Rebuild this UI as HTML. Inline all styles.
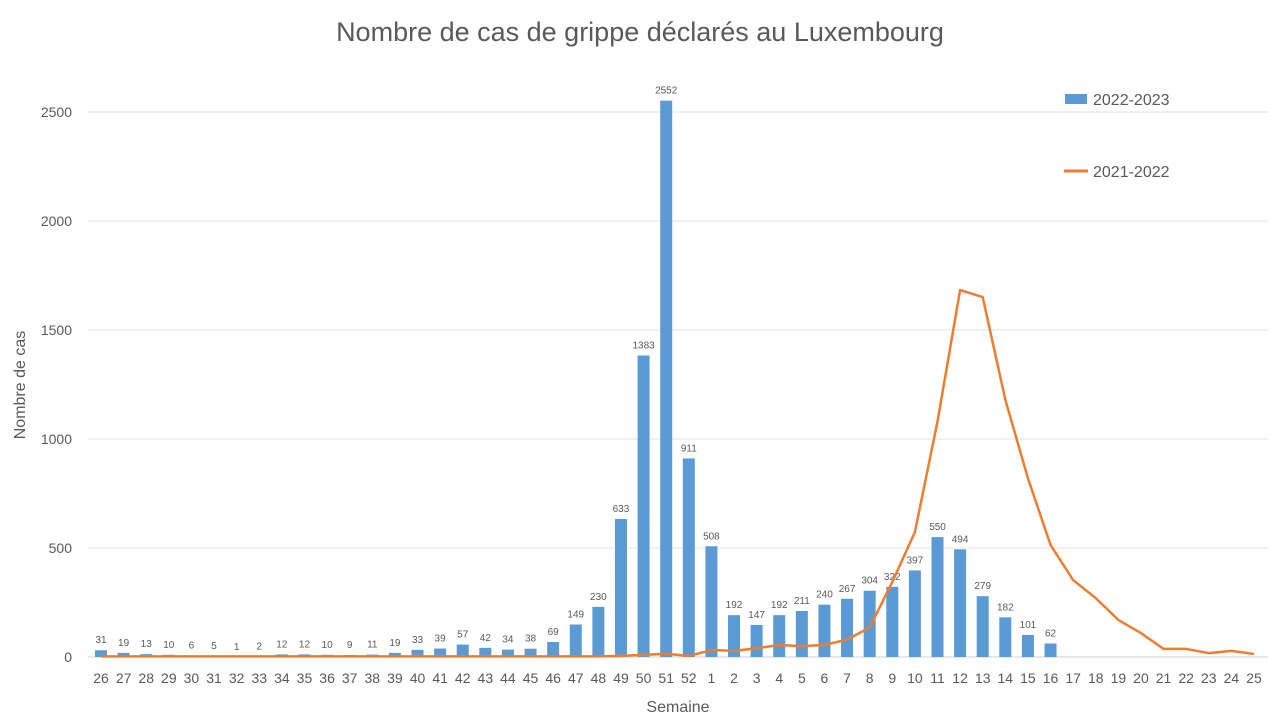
<!DOCTYPE html>
<html><head><meta charset="utf-8"><style>
body{margin:0;background:#fff;font-family:"Liberation Sans",sans-serif}
svg text{font-family:"Liberation Sans",sans-serif}
</style></head><body>
<svg id="chart" width="1280" height="720" xmlns="http://www.w3.org/2000/svg">
<text x="640" y="41" text-anchor="middle" font-size="27" fill="#595959">Nombre de cas de grippe déclarés au Luxembourg</text>
<text transform="translate(25,385) rotate(-90)" text-anchor="middle" font-size="16" fill="#595959">Nombre de cas</text>
<text x="678" y="712" text-anchor="middle" font-size="16" fill="#595959">Semaine</text>
<g id="grid"></g><g id="bars"></g><g id="line"></g><g id="xlabels"></g>
<g>
<rect x="1065" y="94" width="22" height="10" fill="#5b9bd5"/>
<text x="1093" y="105" font-size="16" fill="#595959">2022-2023</text>
<line x1="1064" y1="171" x2="1088" y2="171" stroke="#ed7d31" stroke-width="3"/>
<text x="1093" y="177" font-size="16" fill="#595959">2021-2022</text>
</g>
</svg>
<script>
const weeks=[26,27,28,29,30,31,32,33,34,35,36,37,38,39,40,41,42,43,44,45,46,47,48,49,50,51,52,1,2,3,4,5,6,7,8,9,10,11,12,13,14,15,16,17,18,19,20,21,22,23,24,25];
const cases2223=[31,19,13,10,6,5,1,2,12,12,10,9,11,19,33,39,57,42,34,38,69,149,230,633,1383,2552,911,508,192,147,192,211,240,267,304,322,397,550,494,279,182,101,62];
const cases2122=[3,3,3,3,3,3,3,3,3,3,3,3,3,3,3,3,3,3,3,3,3,3,3,5,10,15,5,32,28,40,55,50,55,80,135,344,573,1080,1683,1651,1180,820,514,353,270,170,110,37,37,18,28,14];
const yTicks=[0,500,1000,1500,2000,2500];
const NS='http://www.w3.org/2000/svg';
const x0=101,dx=(1254-101)/51,yB=657,yS=545/2500;
const X=i=>x0+i*dx, Y=v=>yB-v*yS;
function mk(t,a,p){const e=document.createElementNS(NS,t);for(const k in a)e.setAttribute(k,a[k]);p.appendChild(e);return e;}
const g=document.getElementById('grid');
yTicks.forEach(v=>{
 const l=mk('line',{x1:88,x2:1268,y1:Y(v),y2:Y(v),stroke:v===0?'#d0d0d0':'#e3e3e3','stroke-width':1},g);
 
 
 const t=mk('text',{x:72,y:Y(v)+5,'text-anchor':'end','font-size':14,fill:'#595959'},g);t.textContent=v;
 
 
});
const xl=document.getElementById('xlabels');
weeks.forEach((w,i)=>{
 const t=mk('text',{x:X(i),y:683,'text-anchor':'middle','font-size':14,fill:'#595959'},xl);t.textContent=w;
 
 
});
const b=document.getElementById('bars');
cases2223.forEach((v,i)=>{
 const r=mk('rect',{x:X(i)-6,y:Y(v),width:12,height:v*yS,fill:'#5b9bd5'},b);
 
 
 const t=mk('text',{x:X(i),y:Y(v)-7,'text-anchor':'middle','font-size':10,fill:'#595959'},b);t.textContent=v;
 
 
});
const p=mk('polyline',{points:cases2122.map((v,i)=>X(i)+','+Y(v)).join(' '),fill:'none',stroke:'#ed7d31','stroke-width':2.5,'stroke-linejoin':'round'},document.getElementById('line'));


</script>
</body></html>
